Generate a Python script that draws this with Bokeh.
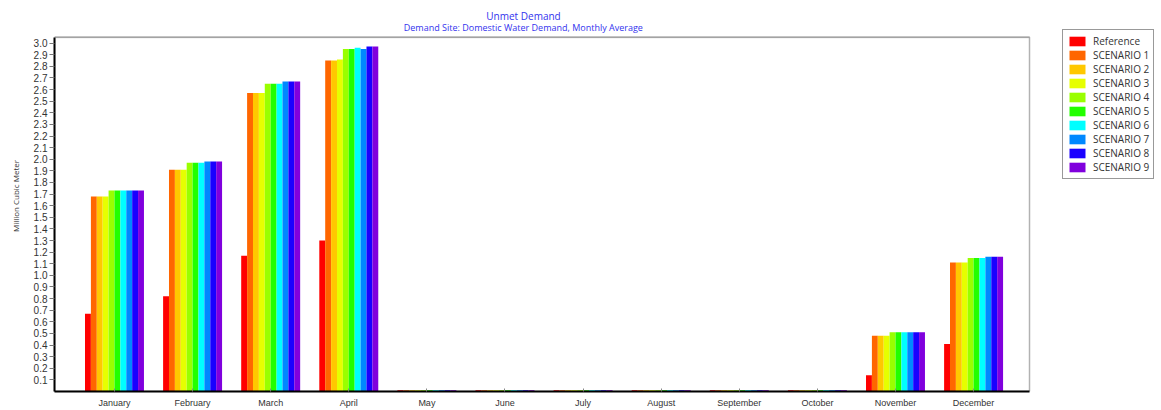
from bokeh.plotting import figure
from bokeh.models import (ColumnDataSource, Range1d, FixedTicker, PrintfTickFormatter,
                          Legend, LegendItem, BoxAnnotation, Label)
from bokeh.transform import dodge
from bokeh.embed import file_html
from bokeh.resources import INLINE

months = ["January", "February", "March", "April", "May", "June", "July",
          "August", "September", "October", "November", "December"]
series_names = ["Reference", "SCENARIO 1", "SCENARIO 2", "SCENARIO 3", "SCENARIO 4",
                "SCENARIO 5", "SCENARIO 6", "SCENARIO 7", "SCENARIO 8", "SCENARIO 9"]
colors = ["#FF0000", "#FF6600", "#FFC800", "#E6FF00", "#99FF00",
          "#22FF00", "#00FFFF", "#0088FF", "#1A00FF", "#8000DD"]

reference = [0.67, 0.82, 1.17, 1.30, 0.01, 0.01, 0.01, 0.01, 0.01, 0.01, 0.14, 0.41]
scenario1 = [1.68, 1.91, 2.57, 2.85, 0.01, 0.01, 0.01, 0.01, 0.01, 0.01, 0.48, 1.11]
scenario2 = [1.68, 1.91, 2.57, 2.85, 0.01, 0.01, 0.01, 0.01, 0.01, 0.01, 0.48, 1.11]
scenario3 = [1.68, 1.91, 2.57, 2.86, 0.01, 0.01, 0.01, 0.01, 0.01, 0.01, 0.48, 1.11]
scenario4 = [1.73, 1.97, 2.65, 2.95, 0.01, 0.01, 0.01, 0.01, 0.01, 0.01, 0.51, 1.15]
scenario5 = [1.73, 1.97, 2.65, 2.95, 0.01, 0.01, 0.01, 0.01, 0.01, 0.01, 0.51, 1.15]
scenario6 = [1.73, 1.97, 2.65, 2.96, 0.01, 0.01, 0.01, 0.01, 0.01, 0.01, 0.51, 1.15]
scenario7 = [1.73, 1.98, 2.67, 2.95, 0.01, 0.01, 0.01, 0.01, 0.01, 0.01, 0.51, 1.16]
scenario8 = [1.73, 1.98, 2.67, 2.97, 0.01, 0.01, 0.01, 0.01, 0.01, 0.01, 0.51, 1.16]
scenario9 = [1.73, 1.98, 2.67, 2.97, 0.01, 0.01, 0.01, 0.01, 0.01, 0.01, 0.51, 1.16]
all_series = [reference, scenario1, scenario2, scenario3, scenario4,
              scenario5, scenario6, scenario7, scenario8, scenario9]

y_ticks = [round(0.1 * i, 1) for i in range(1, 31)]

data = {"x": list(range(len(months)))}
for name, vals in zip(series_names, all_series):
    data[name] = vals
source = ColumnDataSource(data)

# plotting area (the drawn box) vs. the full frame, which also hosts titles & legend
X0, XE, XEND = -0.768, 11.716, 13.406
YTOP, YEND = 3.05, 3.367

p = figure(width=1161, height=410, output_backend="svg", toolbar_location=None,
           x_range=Range1d(X0, XEND), y_range=Range1d(0, YEND),
           min_border_left=54, min_border_right=0, min_border_top=0,
           min_border_bottom=17, background_fill_color="white",
           border_fill_color="white", title=None)
p.xgrid.visible = False
p.ygrid.visible = False
p.outline_line_color = None

bw = 0.0755
items = []
for i, (name, col) in enumerate(zip(series_names, colors)):
    r = p.vbar(x=dodge("x", (i - 4.5) * bw, range=p.x_range), top=name, width=bw,
               bottom=0, source=source, fill_color=col, line_color=None)
    items.append(LegendItem(label=name, renderers=[r]))

# box border: black, with gray top edge
p.add_layout(BoxAnnotation(left=X0, right=XE, bottom=0, top=YTOP, fill_alpha=0,
                           line_color="black", line_width=1.5))
p.add_layout(BoxAnnotation(left=X0, right=XE, bottom=YTOP, top=YTOP, fill_alpha=0,
                           line_color="#808080", line_width=2))

# axes
xa = p.xaxis[0]
xa.bounds = (X0, XE)
xa.ticker = FixedTicker(ticks=list(range(len(months))))
xa.major_label_overrides = {i: m for i, m in enumerate(months)}
xa.axis_line_color = "black"
xa.axis_line_width = 2
xa.major_tick_in = 3
xa.major_tick_out = 0
xa.major_tick_line_color = "#888888"
xa.minor_tick_line_color = None
xa.major_label_standoff = 6
xa.major_label_text_font = "Liberation Sans"
xa.major_label_text_font_size = "9px"
xa.major_label_text_color = "#333333"

ya = p.yaxis[0]
ya.bounds = (0, YTOP)
ya.ticker = FixedTicker(ticks=y_ticks)
ya.formatter = PrintfTickFormatter(format="%.1f")
ya.axis_line_color = "black"
ya.axis_line_width = 2
ya.major_tick_in = 0
ya.major_tick_out = 5
ya.major_tick_line_color = "#777777"
ya.minor_tick_line_color = None
ya.major_label_standoff = 2
ya.major_label_text_font = "Liberation Sans"
ya.major_label_text_font_size = "10px"
ya.major_label_text_color = "#333333"
ya.axis_label = "Million Cubic Meter"
ya.axis_label_text_font = "Open Sans"
ya.axis_label_text_font_style = "normal"
ya.axis_label_text_font_size = "8px"
ya.axis_label_text_color = "#333333"
ya.axis_label_standoff = 10

# titles
p.add_layout(Label(x=469, y=376, x_units="screen", y_units="screen", text="Unmet Demand",
                   text_align="center", text_baseline="middle", text_font="Open Sans",
                   text_font_size="10px", text_color="#3333EE"))
p.add_layout(Label(x=470, y=364, x_units="screen", y_units="screen",
                   text="Demand Site: Domestic Water Demand,  Monthly Average",
                   text_align="center", text_baseline="middle", text_font="Open Sans",
                   text_font_size="9px", text_color="#3333EE"))

legend = Legend(items=items, location=(1008, 212), orientation="vertical",
                glyph_width=20, glyph_height=12, label_height=12, spacing=0,
                padding=4, margin=0, label_standoff=6,
                label_text_font="Open Sans", label_text_font_size="10px",
                label_text_color="#333333", border_line_color="#333333",
                border_line_width=1, background_fill_color="white",
                background_fill_alpha=1.0)
p.add_layout(legend, "center")

open("out.html", "w").write(file_html(p, INLINE))
